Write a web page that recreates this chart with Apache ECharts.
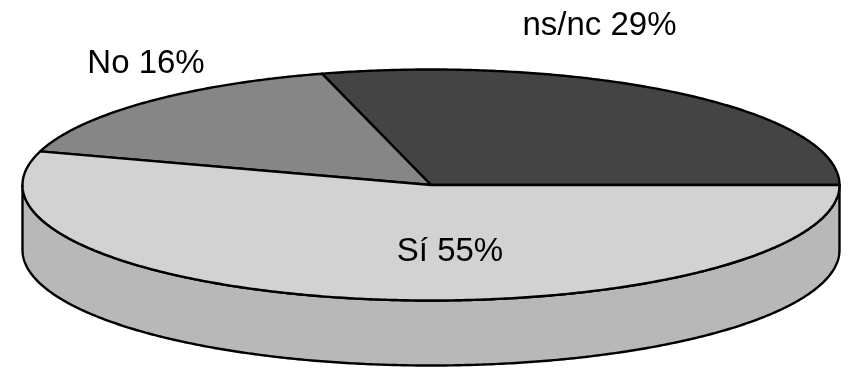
<!DOCTYPE html>
<html>
<head>
<meta charset="utf-8">
<style>html,body{margin:0;padding:0;background:#fff}#c{width:866px;height:379px}</style>
<script src="https://cdn.jsdelivr.net/npm/echarts@6/dist/echarts.min.js"></script>
</head>
<body>
<div id="c"></div>
<script>
const categories = ['ns/nc', 'No', 'Sí'];
const values = [29.3, 16, 54.7];
const topColors = ['#444444', '#868686', '#d2d2d2'];
const sideColors = ['#222222', '#5a5a5a', '#b8b8b8'];
const labelAnchors = [[599.5, 26], [146, 64], [450, 252]];

const CX = 431, CY = 185, RX = 408.5, RY = 115.5, DEPTH = 65;
const total = values.reduce((a, b) => a + b, 0);
const fractionsBefore = values.map((_, i) => values.slice(0, i).reduce((a, b) => a + b, 0) / total);

function pt(t, dy) {
  return [CX + RX * Math.cos(t), CY - RY * Math.sin(t) + (dy || 0)];
}
function arcPoints(a, b, dy) {
  const n = Math.max(2, Math.ceil(Math.abs(b - a) / (Math.PI / 360)));
  const out = [];
  for (let i = 0; i <= n; i++) out.push(pt(a + (b - a) * i / n, dy));
  return out;
}

const chart = echarts.init(document.getElementById('c'), null, { renderer: 'canvas' });
chart.setOption({
  animation: false,
  backgroundColor: '#ffffff',
  series: [{
    type: 'custom',
    coordinateSystem: 'none',
    silent: true,
    data: values.map((v, i) => [v, i]),
    renderItem: function (params, api) {
      const v = api.value(0), i = api.value(1);
      const a = fractionsBefore[i] * 2 * Math.PI;
      const b = a + v / total * 2 * Math.PI;
      const lineStyle = { stroke: '#000', lineWidth: 2.4, lineJoin: 'round' };
      const children = [];
      // visible rim: the part of this slice on the lower half of the ellipse
      const sa = Math.max(a, Math.PI), sb = Math.min(b, 2 * Math.PI);
      if (sb > sa) {
        const side = arcPoints(sa, sb, 0).concat(arcPoints(sb, sa, DEPTH));
        children.push({
          type: 'polygon',
          shape: { points: side },
          style: Object.assign({ fill: sideColors[i] }, lineStyle)
        });
      }
      const top = [[CX, CY]].concat(arcPoints(a, b, 0));
      children.push({
        type: 'polygon',
        shape: { points: top },
        style: Object.assign({ fill: topColors[i] }, lineStyle)
      });
      children.push({
        type: 'text',
        z2: 10,
        style: {
          text: categories[i] + ' ' + Math.round(v) + '%',
          x: labelAnchors[i][0],
          y: labelAnchors[i][1],
          align: 'center',
          verticalAlign: 'middle',
          font: '33px "Liberation Sans", Arial, sans-serif',
          fill: '#000'
        }
      });
      return { type: 'group', children: children };
    }
  }]
});
</script>
</body>
</html>
